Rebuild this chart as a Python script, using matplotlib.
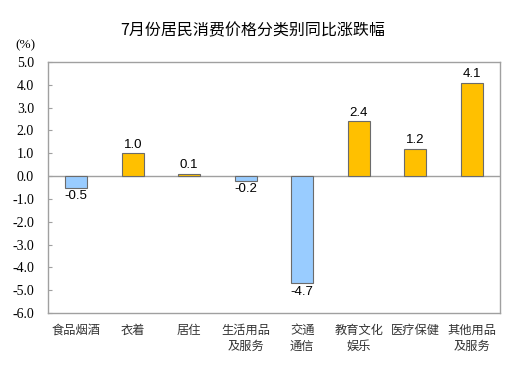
import matplotlib
matplotlib.use('Agg')
import matplotlib.pyplot as plt

plt.rcParams['font.family'] = ['Noto Sans CJK SC', 'DejaVu Sans']

categories = ['食品烟酒', '衣着', '居住', '生活用品\n及服务', '交通\n通信',
              '教育文化\n娱乐', '医疗保健', '其他用品\n及服务']
values = [-0.5, 1.0, 0.1, -0.2, -4.7, 2.4, 1.2, 4.1]
yticks = [5.0, 4.0, 3.0, 2.0, 1.0, 0.0, -1.0, -2.0, -3.0, -4.0, -5.0, -6.0]

pos_color = '#FFC000'
neg_color = '#99CCFF'

fig = plt.figure(figsize=(5.31, 3.65), dpi=100)
ax = fig.add_axes([0.0904, 0.1425, 0.8512, 0.6875])

x = list(range(len(categories)))
colors = [pos_color if v >= 0 else neg_color for v in values]
ax.bar(x, values, width=0.39, color=colors, edgecolor='#6b6b6b', linewidth=0.8, zorder=3)
ax.axhline(0, color='#a0a0a0', linewidth=1.0, zorder=2)

for xi, v in zip(x, values):
    if v >= 0:
        ax.text(xi, v + 0.12, f'{v:.1f}', ha='center', va='bottom',
                fontsize=9.5, family='Liberation Sans')
    else:
        ax.text(xi, v - 0.12, f'{v:.1f}', ha='center', va='top',
                fontsize=9.5, family='Liberation Sans')

ax.set_xlim(-0.5, len(categories) - 0.5)
ax.set_ylim(-6.0, 5.0)
ax.set_yticks(yticks)
ax.set_yticklabels([f'{t:.1f}' for t in yticks], family='Liberation Serif', fontsize=10)
ax.tick_params(axis='y', direction='in', length=3, color='#a0a0a0', pad=10)
ax.set_xticks(x)
ax.set_xticklabels(categories, fontsize=8.8, color='#333333', linespacing=1.25)
ax.tick_params(axis='x', length=0, pad=8)

for s in ax.spines.values():
    s.set_color('#a0a0a0')
    s.set_linewidth(1.0)

fig.text(0.475, 0.915, '7月份居民消费价格分类别同比涨跌幅', ha='center', va='center', fontsize=11.5)
fig.text(0.048, 0.875, '(%)', ha='center', va='center', family='Liberation Serif', fontsize=9.5)

fig.savefig('out.png', dpi=100)
